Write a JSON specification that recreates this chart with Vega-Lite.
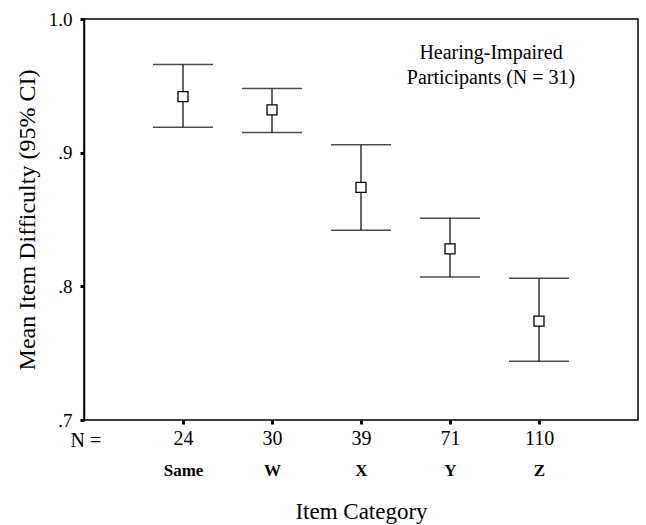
{
  "$schema": "https://vega.github.io/schema/vega-lite/v6.json",
  "width": 554,
  "height": 401,
  "autosize": {"type": "none"},
  "padding": {"left": 84, "top": 19, "right": 8, "bottom": 105},
  "background": "white",
  "config": {
    "view": {"stroke": "black", "strokeWidth": 1.5},
    "axis": {
      "labelFont": "Liberation Serif",
      "titleFont": "Liberation Serif",
      "labelColor": "black",
      "titleColor": "black",
      "domainColor": "black",
      "tickColor": "black",
      "grid": false,
      "titleFontWeight": "normal"
    }
  },
  "data": {
    "values": [
      {"cat": "Same", "n": 24, "mean": 0.942, "lo": 0.919, "hi": 0.966},
      {"cat": "W", "n": 30, "mean": 0.932, "lo": 0.915, "hi": 0.948},
      {"cat": "X", "n": 39, "mean": 0.874, "lo": 0.842, "hi": 0.906},
      {"cat": "Y", "n": 71, "mean": 0.828, "lo": 0.807, "hi": 0.851},
      {"cat": "Z", "n": 110, "mean": 0.774, "lo": 0.744, "hi": 0.806}
    ]
  },
  "resolve": {"axis": {"x": "independent"}},
  "layer": [
    {
      "mark": {"type": "rule", "color": "black", "strokeWidth": 1.2},
      "encoding": {
        "x": {
          "field": "cat", "type": "nominal",
          "scale": {"type": "point", "padding": 1, "range": [10, 544], "domain": ["Same", "W", "X", "Y", "Z"]},
          "axis": {
            "orient": "bottom",
            "labelAngle": 0,
            "labelExpr": "datum.value == 'Same' ? '24' : datum.value == 'W' ? '30' : datum.value == 'X' ? '39' : datum.value == 'Y' ? '71' : '110'",
            "labelFontSize": 20,
            "labelPadding": 4,
            "tickSize": 4,
            "tickWidth": 3,
            "domain": false,
            "title": "N =",
            "titleFontSize": 20,
            "titleAngle": 0,
            "titleX": -14,
            "titleY": 20,
            "titleAlign": "left",
            "titleBaseline": "middle"
          }
        },
        "y": {
          "field": "lo", "type": "quantitative",
          "scale": {"domain": [0.7, 1.0], "nice": false, "zero": false},
          "axis": {
            "values": [0.7, 0.8, 0.9, 1.0],
            "labelExpr": "datum.value >= 0.99 ? '1.0' : '.' + format(datum.value * 10, '.0f')",
            "labelFontSize": 19,
            "labelPadding": 8,
            "tickSize": 4,
            "tickWidth": 3,
            "domainWidth": 1.5,
            "title": "Mean Item Difficulty (95% CI)",
            "titleFontSize": 24,
            "titlePadding": 9
          }
        },
        "y2": {"field": "hi"}
      }
    },
    {
      "mark": {"type": "tick", "color": "black", "thickness": 1.5, "size": 60},
      "encoding": {
        "x": {
          "field": "cat", "type": "nominal",
          "axis": {
            "orient": "bottom",
            "offset": 32,
            "labelAngle": 0,
            "domain": false,
            "ticks": false,
            "labelFontSize": 17,
            "labelFontWeight": "bold",
            "labelPadding": 10,
            "title": "Item Category",
            "titleFontSize": 23,
            "titlePadding": 22
          }
        },
        "y": {"field": "hi", "type": "quantitative"}
      }
    },
    {
      "mark": {"type": "tick", "color": "black", "thickness": 1.5, "size": 60},
      "encoding": {
        "x": {"field": "cat", "type": "nominal", "axis": null},
        "y": {"field": "lo", "type": "quantitative"}
      }
    },
    {
      "mark": {"type": "point", "shape": "square", "filled": true, "fill": "white", "stroke": "black", "strokeWidth": 1.3, "size": 100, "opacity": 1},
      "encoding": {
        "x": {"field": "cat", "type": "nominal", "axis": null},
        "y": {"field": "mean", "type": "quantitative"}
      }
    },
    {
      "data": {"values": [{"label": "Hearing-Impaired\nParticipants (N = 31)"}]},
      "mark": {"type": "text", "font": "Liberation Serif", "fontSize": 20, "lineBreak": "\n", "lineHeight": 25, "align": "center", "baseline": "middle", "dx": -48, "color": "black"},
      "encoding": {
        "x": {"datum": "Z", "type": "nominal", "axis": null},
        "y": {"datum": 0.9745, "type": "quantitative"},
        "text": {"field": "label"}
      }
    }
  ]
}
